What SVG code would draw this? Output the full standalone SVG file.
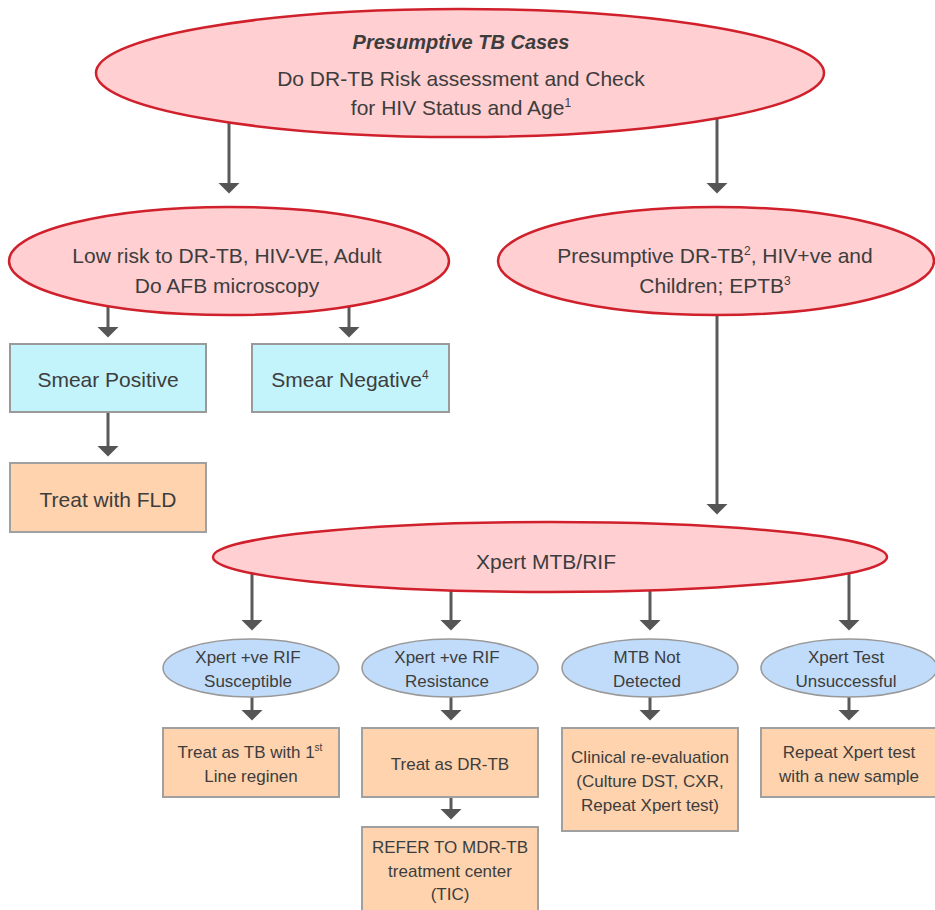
<svg xmlns="http://www.w3.org/2000/svg" width="935" height="910" viewBox="0 0 935 910">
<defs>
<marker id="ah" markerUnits="userSpaceOnUse" markerWidth="11" markerHeight="22" viewBox="0 0 11 22" refX="0.5" refY="11" orient="auto">
<path d="M0,0 L11,11 L0,22 z" fill="#555"/>
</marker>
<style>
.red{fill:#ffcfd1;stroke:#d0202c;stroke-width:2.5}
.blue{fill:#c1dcfa;stroke:#999;stroke-width:1.5}
.cyan{fill:#c3f3fb;stroke:#9a9a9a;stroke-width:2}
.orange{fill:#fed3ae;stroke:#a0a0a0;stroke-width:2}
.conn line{stroke:#5a5a5a;stroke-width:3;marker-end:url(#ah)}
text{font-family:"Liberation Sans",Arial,sans-serif;fill:#3d3d3d;text-anchor:middle}
.big{font-size:21px}
.sm{font-size:17px}
.sup{font-size:12px}
.sup2{font-size:10px}
</style>
</defs>
<rect width="935" height="910" fill="#fff"/>
<g id="connectors" class="conn">
<line x1="229" y1="110" x2="229" y2="183"/>
<line x1="717" y1="110" x2="717" y2="183"/>
<line x1="108" y1="298" x2="108" y2="327"/>
<line x1="349" y1="298" x2="349" y2="327"/>
<line x1="717" y1="305" x2="717" y2="504"/>
<line x1="108" y1="412" x2="108" y2="446"/>
<line x1="252" y1="562" x2="252" y2="620"/>
<line x1="451" y1="562" x2="451" y2="620"/>
<line x1="650" y1="562" x2="650" y2="620"/>
<line x1="849" y1="562" x2="849" y2="620"/>
<line x1="252" y1="690" x2="252" y2="710"/>
<line x1="451" y1="690" x2="451" y2="710"/>
<line x1="650" y1="690" x2="650" y2="710"/>
<line x1="849" y1="690" x2="849" y2="710"/>
<line x1="451" y1="797" x2="451" y2="809"/>
</g>
<g id="top">
<ellipse class="red" cx="460" cy="73" rx="364" ry="64"/>
<text x="461" y="49" style="font-size:20px;font-weight:bold;font-style:italic">Presumptive TB Cases</text>
<text class="big" x="461" y="86">Do DR-TB Risk assessment and Check</text>
<text class="big" x="461" y="115">for HIV Status and Age<tspan class="sup" dy="-8">1</tspan></text>
</g>
<g id="lowrisk">
<ellipse class="red" cx="229" cy="261" rx="220" ry="54"/>
<text class="big" x="227" y="263">Low risk to DR-TB, HIV-VE, Adult</text>
<text class="big" x="227" y="293">Do AFB microscopy</text>
</g>
<g id="presumptive-drtb">
<ellipse class="red" cx="716" cy="261" rx="218" ry="54"/>
<text class="big" x="715" y="263">Presumptive DR-TB<tspan class="sup" dy="-8">2</tspan><tspan dy="8">, HIV+ve and</tspan></text>
<text class="big" x="715" y="293">Children; EPTB<tspan class="sup" dy="-8">3</tspan></text>
</g>
<g id="smear-positive">
<rect class="cyan" x="10" y="344" width="196" height="68"/>
<text class="big" x="108" y="387">Smear Positive</text>
</g>
<g id="smear-negative">
<rect class="cyan" x="252" y="344" width="197" height="68"/>
<text class="big" x="350" y="387">Smear Negative<tspan class="sup" dy="-8">4</tspan></text>
</g>
<g id="treat-fld">
<rect class="orange" x="10" y="463" width="196" height="69"/>
<text class="big" x="108" y="507">Treat with FLD</text>
</g>
<g id="xpert">
<ellipse class="red" cx="550" cy="557" rx="337" ry="35"/>
<text class="big" x="546" y="569">Xpert MTB/RIF</text>
</g>
<g id="rif-susceptible">
<ellipse class="blue" cx="251" cy="668" rx="88" ry="29"/>
<text class="sm" x="248" y="663">Xpert +ve RIF</text>
<text class="sm" x="248" y="687">Susceptible</text>
</g>
<g id="rif-resistance">
<ellipse class="blue" cx="450" cy="668" rx="88" ry="29"/>
<text class="sm" x="447" y="663">Xpert +ve RIF</text>
<text class="sm" x="447" y="687">Resistance</text>
</g>
<g id="mtb-not-detected">
<ellipse class="blue" cx="650" cy="668" rx="88" ry="29"/>
<text class="sm" x="647" y="663">MTB Not</text>
<text class="sm" x="647" y="687">Detected</text>
</g>
<g id="xpert-unsuccessful">
<ellipse class="blue" cx="849" cy="668" rx="88" ry="29"/>
<text class="sm" x="846" y="663">Xpert Test</text>
<text class="sm" x="846" y="687">Unsuccessful</text>
</g>
<g id="treat-1st-line">
<rect class="orange" x="163" y="728" width="176" height="69"/>
<text class="sm" x="250" y="758">Treat as TB with 1<tspan class="sup2" dy="-7">st</tspan></text>
<text class="sm" x="251" y="782">Line reginen</text>
</g>
<g id="treat-drtb">
<rect class="orange" x="362" y="728" width="176" height="69"/>
<text class="sm" x="450" y="770">Treat as DR-TB</text>
</g>
<g id="clinical-reeval">
<rect class="orange" x="562" y="728" width="176" height="103"/>
<text class="sm" x="650" y="763">Clinical re-evaluation</text>
<text class="sm" x="650" y="787">(Culture DST, CXR,</text>
<text class="sm" x="650" y="811">Repeat Xpert test)</text>
</g>
<g id="repeat-xpert">
<rect class="orange" x="761" y="728" width="177" height="69"/>
<text class="sm" x="849" y="758">Repeat Xpert test</text>
<text class="sm" x="849" y="782">with a new sample</text>
</g>
<g id="refer-mdr">
<rect class="orange" x="362" y="827" width="176" height="100"/>
<text class="sm" x="450" y="853">REFER TO MDR-TB</text>
<text class="sm" x="450" y="877">treatment center</text>
<text class="sm" x="450" y="900">(TIC)</text>
</g>
</svg>
